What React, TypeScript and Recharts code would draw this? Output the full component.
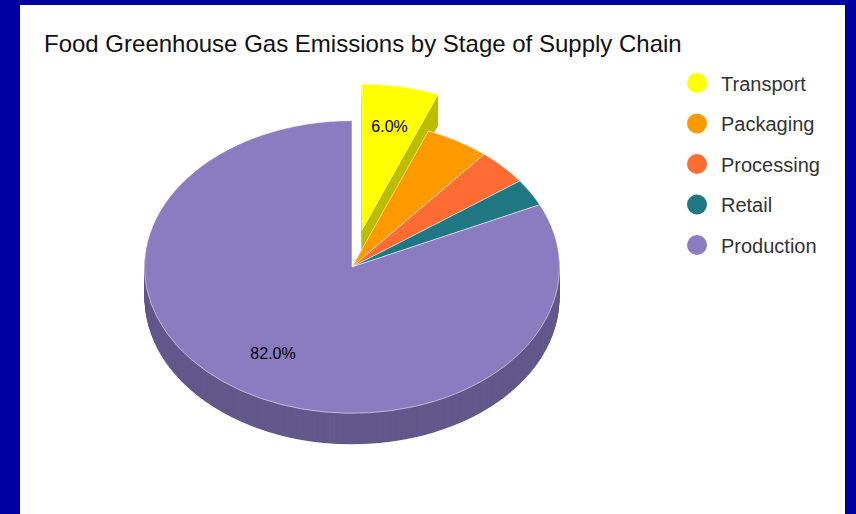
import React from 'react';
import { PieChart, Pie, Cell, Legend } from 'recharts';

// ---- data ----
const STAGES = ['Transport', 'Packaging', 'Processing', 'Retail', 'Production'];
const SHARES = [6, 5, 4, 3, 82];
const TOP_COLORS = ['#FFFF00', '#FF9900', '#FF6C33', '#1F7783', '#8B7CC1'];
const SIDE_COLORS = ['#BDBD00', '#BF7300', '#BF5126', '#175962', '#63588B'];
const EXPLODED = 'Transport';
const TITLE = 'Food Greenhouse Gas Emissions by Stage of Supply Chain';

// ---- layout ----
const W = 856;
const H = 514;
const CX = 352;
const CY = 267;
const RX = 207.5;
const TILT = 0.705;
const DEPTH = 31;
const EXPLODE = 53;
const LABEL_R = 0.71;
const LABEL_DY = -1.5;
const RAD = Math.PI / 180;
const FONT = '"Liberation Sans", Arial, Helvetica, sans-serif';

const data = STAGES.map((name, i) => ({ name, value: SHARES[i] }));
const total = SHARES.reduce((a, b) => a + b, 0);
const explodedIdx = STAGES.indexOf(EXPLODED);

// angular ranges (start 90°, clockwise)
const ranges = SHARES.map((v, i) => {
  const before = SHARES.slice(0, i).reduce((a, b) => a + b, 0);
  const s = 90 - (before / total) * 360;
  const e = s - (v / total) * 360;
  return { s, e, mid: (s + e) / 2 };
});
// outer wall visible only for slices that reach the front half
const wallVisible = ranges.map((r) => r.e < 0 && r.s > -180);

const EX_CX = CX + EXPLODE * Math.cos(ranges[explodedIdx].mid * RAD);
const EX_CY = CY - EXPLODE * Math.sin(ranges[explodedIdx].mid * RAD);

const css = `
body { margin: 0; }
.recharts-pie .recharts-sector {
  transform-box: view-box;
  transform-origin: 0px ${CY}px;
  transform: scaleY(${TILT});
}
`;

const makeLabel = (which: 'main' | 'exploded') => (p: any) => {
  const i = p.index;
  if (which === 'main' ? i === explodedIdx : i !== explodedIdx) return null;
  if (SHARES[i] / total < 0.055) return null;
  const r = p.outerRadius * LABEL_R;
  const x = p.cx + r * Math.cos(-p.midAngle * RAD);
  const yFlat = p.cy + r * Math.sin(-p.midAngle * RAD);
  const y = CY + (yFlat - CY) * TILT + LABEL_DY;
  return (
    <text
      key={`lab-${which}-${i}`}
      x={x}
      y={y}
      textAnchor="middle"
      dominantBaseline="central"
      fontSize={16}
      fontFamily={FONT}
      fill="#000"
    >
      {`${(p.percent * 100).toFixed(1)}%`}
    </text>
  );
};

const renderLegend = () => (
  <svg width={170} height={210} style={{ display: 'block' }}>
    {STAGES.map((s, i) => (
      <g key={s}>
        <circle cx={17} cy={21 + i * 40.5} r={10} fill={TOP_COLORS[i]} />
        <text x={41} y={21 + i * 40.5 + 7.5} fontSize={20} fontFamily={FONT} fill="#333">
          {s}
        </text>
      </g>
    ))}
  </svg>
);

const layers = Array.from({ length: DEPTH }, (_, j) => DEPTH - j);

export default function App() {
  return (
    <div style={{ position: 'relative', width: W, height: H, background: '#0000A0', overflow: 'hidden' }}>
      <style>{css}</style>
      <div style={{ position: 'absolute', left: 20, top: 5, width: 825, height: H - 5, background: '#fff' }} />
      <div style={{ position: 'absolute', left: 0, top: 0 }}>
        <PieChart width={W} height={H} margin={{ top: 0, right: 0, bottom: 0, left: 0 }}>
          {layers.map((k) => (
            <Pie
              key={`wall-${k}`}
              data={data}
              dataKey="value"
              nameKey="name"
              cx={CX}
              cy={CY + k / TILT}
              outerRadius={RX}
              startAngle={90}
              endAngle={-270}
              stroke="none"
              legendType="none"
              label={false}
              labelLine={false}
              isAnimationActive={false}
            >
              {data.map((d, i) => (
                <Cell
                  key={d.name}
                  fill={i !== explodedIdx && wallVisible[i] ? SIDE_COLORS[i] : 'none'}
                  stroke="none"
                />
              ))}
            </Pie>
          ))}
          {layers.map((k) => (
            <Pie
              key={`xwall-${k}`}
              data={data}
              dataKey="value"
              nameKey="name"
              cx={EX_CX}
              cy={EX_CY + k / TILT}
              outerRadius={RX}
              startAngle={90}
              endAngle={-270}
              stroke="none"
              legendType="none"
              label={false}
              labelLine={false}
              isAnimationActive={false}
            >
              {data.map((d, i) => (
                <Cell key={d.name} fill={i === explodedIdx ? SIDE_COLORS[i] : 'none'} stroke="none" />
              ))}
            </Pie>
          ))}
          <Pie
            data={data}
            dataKey="value"
            nameKey="name"
            cx={CX}
            cy={CY}
            outerRadius={RX}
            startAngle={90}
            endAngle={-270}
            label={makeLabel('main')}
            labelLine={false}
            legendType="none"
            isAnimationActive={false}
          >
            {data.map((d, i) => (
              <Cell
                key={d.name}
                fill={i === explodedIdx ? 'none' : TOP_COLORS[i]}
                stroke={i === explodedIdx ? 'none' : '#ffffff'}
                strokeWidth={0.6}
              />
            ))}
          </Pie>
          <Pie
            data={data}
            dataKey="value"
            nameKey="name"
            cx={EX_CX}
            cy={EX_CY}
            outerRadius={RX}
            startAngle={90}
            endAngle={-270}
            label={makeLabel('exploded')}
            labelLine={false}
            legendType="none"
            isAnimationActive={false}
          >
            {data.map((d, i) => (
              <Cell
                key={d.name}
                fill={i === explodedIdx ? TOP_COLORS[i] : 'none'}
                stroke={i === explodedIdx ? '#ffffff' : 'none'}
                strokeWidth={0.6}
              />
            ))}
          </Pie>
          <Legend
            layout="vertical"
            verticalAlign="top"
            align="right"
            content={renderLegend}
            wrapperStyle={{ left: 680, top: 62, right: 'auto', width: 170, height: 210 }}
          />
        </PieChart>
      </div>
      <svg
        width={W}
        height={H}
        style={{ position: 'absolute', left: 0, top: 0, pointerEvents: 'none' }}
      >
        <text x={44} y={52} fontSize={24} fontFamily={FONT} fill="#111">
          {TITLE}
        </text>
      </svg>
    </div>
  );
}
